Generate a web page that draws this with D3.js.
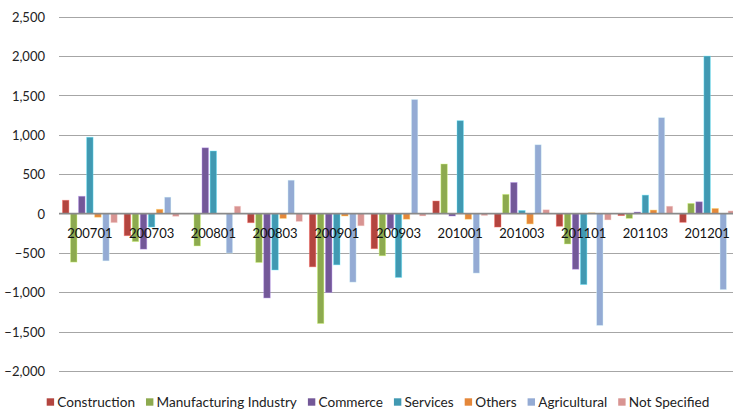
<!DOCTYPE html>
<html><head><meta charset="utf-8">
<script src="https://cdn.jsdelivr.net/npm/d3@7"></script>
<style>body{margin:0;background:#fff}svg{display:block;font-family:Lato,"DejaVu Sans",sans-serif}</style>
</head><body><svg id="c" width="733" height="411"></svg>
<script>
const categories = ["200701","200703","200801","200803","200901","200903","201001","201003","201101","201103","201201"];
const seriesNames = ["Construction","Manufacturing Industry","Commerce","Services","Others","Agricultural","Not Specified"];
const construction  = [170, -280, 0, -115, -675, -445, 160, -170, -160, -25, -110];
const manufacturing = [-615, -355, -410, -620, -1395, -535, 630, 245, -385, -60, 130];
const commerce      = [220, -450, 835, -1070, -1000, -190, -30, 395, -705, 20, 150];
const services      = [970, -170, 795, -715, -650, -810, 1180, 40, -900, 235, 2000];
const others        = [-45, 55, 0, -60, -30, -70, -70, -130, 10, 45, 65];
const agricultural  = [-600, 210, -500, 425, -870, 1450, -755, 875, -1420, 1220, -965];
const notSpecified  = [-115, -35, 95, -100, -155, -30, -25, 50, -80, 95, 35];
const yTicks = [-2000,-1500,-1000,-500,0,500,1000,1500,2000,2500];
const colors = ["#B3453F","#8DAA4F","#735898","#4199B2","#E4873A","#94ABD4","#D89492"];

const seriesValues = [construction, manufacturing, commerce, services, others, agricultural, notSpecified];
const svg = d3.select("#c");
const x0 = d3.scaleBand().domain(categories).range([59, 738]).paddingInner(0.086).paddingOuter(0.043);
const x1 = d3.scaleBand().domain(d3.range(seriesNames.length)).range([0, x0.bandwidth()]).paddingInner(0.2).paddingOuter(0.1);
const y = d3.scaleLinear().domain([-2000, 2500]).range([371.2, 16.7]);

// gridlines
svg.append("g").selectAll("line").data(yTicks.filter(d=>d!==0)).join("line")
  .attr("x1", 59).attr("x2", 733).attr("y1", d=>Math.round(y(d))+0.5).attr("y2", d=>Math.round(y(d))+0.5)
  .attr("stroke", "#a6a6a6").attr("stroke-width", 1.2);

// y axis labels
const yAxis = d3.axisLeft(y).tickValues(yTicks).tickSize(0).tickPadding(0).tickFormat(d3.format(","));
const ya = svg.append("g").attr("transform","translate(45,0)").call(yAxis);
ya.select(".domain").remove();
ya.selectAll("text").attr("font-size", 13).attr("fill","#222").attr("font-family","Lato,sans-serif").attr("dy","0.35em");

// bars
const g = svg.append("g");
seriesValues.forEach((vals, si) => {
  g.append("g").selectAll("rect").data(vals.map((v,i)=>({c:categories[i], v}))).join("rect")
    .attr("x", d => x0(d.c) + x1(si))
    .attr("width", x1.bandwidth())
    .attr("y", d => Math.min(y(d.v), y(0)))
    .attr("height", d => Math.abs(y(d.v) - y(0)))
    .attr("fill", colors[si])
    .attr("stroke", d3.color(colors[si]).brighter(1.2))
    .attr("stroke-opacity", 0.5)
    .attr("stroke-width", 0.8);
});

// zero line
svg.append("line").attr("x1",59).attr("x2",733).attr("y1",y(0)).attr("y2",y(0))
  .attr("stroke","#8a8a8a").attr("stroke-width",1.8);

// category labels
const xAxis = d3.axisBottom(x0).tickSize(0).tickPadding(0);
const xa = svg.append("g").attr("transform", `translate(0,${y(0)})`).call(xAxis);
xa.select(".domain").remove();
xa.selectAll("text").attr("font-size", 13).attr("fill","#111").attr("font-family","Lato,sans-serif").attr("dy", null).attr("y", 24.5);

// legend
const leg = svg.append("g");
let lx = 46.7;
seriesNames.forEach((n, i) => {
  leg.append("rect").attr("x", lx).attr("y", 398.3).attr("width", 7.4).attr("height", 7.4).attr("fill", colors[i]);
  const t = leg.append("text").attr("x", lx + 10.6).attr("y", 406.6).attr("font-size", 13.6).attr("fill","#222").text(n);
  lx = lx + 10.6 + t.node().getComputedTextLength() + 11;
});
</script></body></html>
